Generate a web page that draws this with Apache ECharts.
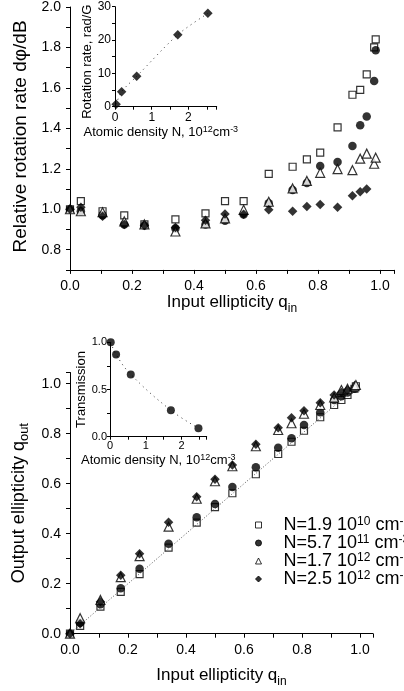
<!DOCTYPE html>
<html><head><meta charset="utf-8">
<script src="https://cdn.jsdelivr.net/npm/echarts@6/dist/echarts.min.js"></script>
<style>html,body{margin:0;padding:0;background:#fff}#c{width:404px;height:691px}</style>
</head><body><div id="c"></div>
<script>
// ---------- data ----------
const qIn = [0, 0.035, 0.105, 0.175, 0.24, 0.34, 0.437, 0.5, 0.56, 0.641, 0.718, 0.764, 0.807, 0.863, 0.911, 0.936, 0.957, 0.981, 0.986];
// relative rotation rate (top panel)
const rateN1 = [1.0, 1.04, 0.99, 0.97, 0.925, 0.95, 0.98, 1.04, 1.04, 1.175, 1.21, 1.247, 1.28, 1.405, 1.566, 1.59, 1.667, 1.80, 1.84];
const rateN2 = [1.0, 0.99, 0.97, 0.925, 0.92, 0.905, 0.925, 0.943, 0.974, 1.03, 1.095, 1.13, 1.214, 1.234, 1.313, 1.415, 1.459, 1.634, 1.786];
const rateN3 = [1.0, 0.99, 0.985, 0.94, 0.925, 0.89, 0.93, 0.955, 0.997, 1.037, 1.103, 1.14, 1.18, 1.198, 1.193, 1.25, 1.275, 1.225, 1.255];
const rateN4 = [1.0, 1.01, 0.965, 0.925, 0.92, 0.91, 0.945, 0.977, 0.975, 0.997, 0.99, 1.013, 1.023, 1.01, 1.067, 1.087, 1.10, null, null];
// output ellipticity (bottom panel)
const outN1 = [0, 0.031, 0.108, 0.167, 0.238, 0.344, 0.444, 0.506, 0.562, 0.638, 0.719, 0.768, 0.812, 0.866, 0.915, 0.935, 0.955, 0.98, 0.99];
const outN2 = [0, 0.044, 0.118, 0.182, 0.26, 0.36, 0.466, 0.519, 0.587, 0.666, 0.744, 0.782, 0.835, 0.886, 0.935, 0.95, 0.965, 0.98, null];
const outN3 = [0, 0.062, 0.135, 0.226, 0.31, 0.428, 0.54, 0.61, 0.67, 0.75, 0.815, 0.842, 0.88, 0.915, 0.945, 0.975, 0.98, 0.99, 0.995];
const outN4 = [0, 0.04, 0.128, 0.234, 0.32, 0.446, 0.548, 0.618, 0.675, 0.758, 0.824, 0.864, 0.892, 0.924, 0.955, 0.965, 0.975, null, null];
// reference line q_out = q_in
const diagX = [0, 1];
const diagY = [0, 1];
// insets
const densRot = [0.03, 0.18, 0.59, 1.71, 2.53];
const rotRate = [0.7, 4.5, 9.1, 21.6, 28.0];
const densTr = [0.02, 0.17, 0.58, 1.70, 2.47];
const transm = [1.0, 0.87, 0.66, 0.28, 0.09];
// legend
const legMant = ['1.9', '5.7', '1.7', '2.5'];
const legExp = ['10', '11', '12', '12'];
const seriesNames = legMant.map((m, i) => 'N=' + m + ' 10^' + legExp[i] + ' cm^-3');

// ---------- helpers ----------
const FF = 'Liberation Sans, Arial, sans-serif';
function pts(xs, ys) { const o = []; for (let i = 0; i < xs.length; i++) if (ys[i] != null) o.push([xs[i], ys[i]]); return o; }
function evenTenths(v) { const k = Math.round(v * 10); return (Math.abs(v * 10 - k) < 1e-6 && k % 2 === 0) ? (k / 10).toFixed(1) : ''; }
function integers(v) { const k = Math.round(v); return Math.abs(v - k) < 1e-6 ? String(k) : ''; }
function tens(v) { const k = Math.round(v / 10); return Math.abs(v / 10 - k) < 1e-6 ? String(k * 10) : ''; }
function halves(v) { const k = Math.round(v * 2); return Math.abs(v * 2 - k) < 1e-6 ? (k / 2).toFixed(1) : ''; }

function axis(o) {
  return Object.assign({
    type: 'value',
    axisLine: { show: true, onZero: false, lineStyle: { color: '#000', width: 1 } },
    axisTick: { show: true, inside: false, length: o.tickLen || 4, lineStyle: { color: '#000', width: 1 } },
    splitLine: { show: false },
    axisLabel: { color: '#000', fontFamily: FF, fontSize: o.fs || 14, margin: o.margin || 9, formatter: o.fmt,
                 showMinLabel: true, showMaxLabel: true, hideOverlap: false },
    nameLocation: 'middle'
  }, o.extra);
}

const richSub = (fs, sfs) => ({
  m: { fontSize: fs, fontFamily: FF, color: '#000', lineHeight: 24, verticalAlign: 'middle' },
  sub: { fontSize: sfs, fontFamily: FF, color: '#000', lineHeight: 14, verticalAlign: 'bottom' }
});
const richSup = (fs, sfs, lh, slh, spw) => ({
  t: { fontSize: fs, fontFamily: FF, color: '#000', lineHeight: lh, verticalAlign: 'middle' },
  sup: { fontSize: sfs, fontFamily: FF, color: '#000', lineHeight: slh, verticalAlign: 'top' },
  sp: { width: spw || 16, fontSize: fs, lineHeight: lh }
});

const markers = [
  { symbol: 'rect', size: 7, style: { color: '#fff', borderColor: '#000', borderWidth: 1.2 } },
  { symbol: 'circle', size: 8.5, style: { color: '#000', borderColor: '#000', borderWidth: 0 } },
  { symbol: 'triangle', size: 9, style: { color: '#fff', borderColor: '#000', borderWidth: 1.2 } },
  { symbol: 'diamond', size: 9.5, style: { color: '#000', borderColor: '#000', borderWidth: 0 } }
];
const rateSets = [rateN1, rateN2, rateN3, rateN4];
const outSets = [outN1, outN2, outN3, outN4];

const series = [];
rateSets.forEach((arr, i) => series.push({
  type: 'scatter', name: seriesNames[i], xAxisIndex: 0, yAxisIndex: 0,
  symbol: markers[i].symbol, symbolSize: markers[i].size, itemStyle: markers[i].style,
  data: pts(qIn, arr), z: 3 + i, silent: true
}));
series.push({
  type: 'line', xAxisIndex: 2, yAxisIndex: 2, data: pts(diagX, diagY), showSymbol: false,
  lineStyle: { color: '#555', width: 1, type: [1, 2] }, z: 2, silent: true
});
outSets.forEach((arr, i) => series.push({
  type: 'scatter', name: seriesNames[i], xAxisIndex: 2, yAxisIndex: 2,
  symbol: markers[i].symbol, symbolSize: markers[i].size, itemStyle: markers[i].style,
  data: pts(qIn, arr), z: i === 0 ? 1 : 3 + i, silent: true
}));
// insets
series.push({
  type: 'line', xAxisIndex: 1, yAxisIndex: 1, data: pts(densRot, rotRate), smooth: 0.3, showSymbol: false,
  lineStyle: { color: '#333', width: 1, type: [1, 4] }, silent: true
});
series.push({
  type: 'scatter', xAxisIndex: 1, yAxisIndex: 1, data: pts(densRot, rotRate), symbol: 'diamond', symbolSize: 9.5,
  itemStyle: { color: '#000' }, silent: true, z: 5
});
series.push({
  type: 'line', xAxisIndex: 3, yAxisIndex: 3, data: pts(densTr, transm), smooth: 0.4, showSymbol: false,
  lineStyle: { color: '#333', width: 1, type: [1, 4] }, silent: true
});
series.push({
  type: 'scatter', xAxisIndex: 3, yAxisIndex: 3, data: pts(densTr, transm), symbol: 'circle', symbolSize: 8,
  itemStyle: { color: '#000' }, silent: true, z: 5
});

const option = {
  animation: false,
  backgroundColor: '#fff',
  textStyle: { fontFamily: FF, color: '#000' },
  grid: [
    { left: 70, top: 4.7, width: 324, height: 265.2 },
    { left: 115, top: 6.7, width: 101.7, height: 100 },
    { left: 70, top: 372.5, width: 303, height: 261.2 },
    { left: 110, top: 342.3, width: 96.7, height: 94.4 }
  ],
  xAxis: [
    axis({ fmt: evenTenths, margin: 9, extra: { gridIndex: 0, min: 0, max: 1.045, interval: 0.1,
      name: '{m|Input ellipticity q}{sub|in}', nameGap: 14, nameTextStyle: { rich: richSub(17, 12) } } }),
    axis({ fmt: integers, fs: 12, margin: 5, tickLen: 3, extra: { gridIndex: 1, min: 0, max: 2.77, interval: 0.5,
      name: '{t|Atomic density N, 10}{sup|12}{t|cm}{sup|-3}', nameGap: 14,
      nameTextStyle: { rich: richSup(13, 9, 15, 8), padding: [0, 10, 0, 0] } } }),
    axis({ fmt: evenTenths, margin: 9, extra: { gridIndex: 2, min: 0, max: 1.045, interval: 0.1,
      name: '{m|Input ellipticity q}{sub|in}', nameGap: 30, nameTextStyle: { rich: richSub(17, 12) } } }),
    axis({ fmt: integers, fs: 11, margin: 4, tickLen: 3, extra: { gridIndex: 3, min: 0, max: 2.7, interval: 0.5,
      name: '{t|Atomic density N, 10}{sup|12}{t|cm}{sup|-3}', nameGap: 16,
      nameTextStyle: { rich: richSup(13, 9, 15, 8) } } })
  ],
  yAxis: [
    axis({ fmt: evenTenths, margin: 9, extra: { gridIndex: 0, min: 0.7, max: 2.0, interval: 0.1,
      name: 'Relative rotation rate d\u03c6/dB', nameGap: 33,
      nameTextStyle: { fontSize: 19, fontFamily: FF, color: '#000', padding: [0, 0, 0, 4] } } }),
    axis({ fmt: tens, fs: 12, margin: 4, tickLen: 3, extra: { gridIndex: 1, min: 0, max: 30, interval: 5,
      name: 'Rotation rate, rad/G', nameGap: 19,
      nameTextStyle: { fontSize: 13, fontFamily: FF, color: '#000', padding: [0, 10, 0, 0] } } }),
    axis({ fmt: evenTenths, margin: 9, extra: { gridIndex: 2, min: 0, max: 1.045, interval: 0.1,
      name: '{m|Output ellipticity q}{sub|out}', nameGap: 38, nameTextStyle: { rich: richSub(18, 13) } } }),
    axis({ fmt: halves, fs: 11, margin: 3, tickLen: 3, extra: { gridIndex: 3, min: 0, max: 1.0, interval: 0.25,
      name: 'Transmission', nameGap: 16,
      nameTextStyle: { fontSize: 13, fontFamily: FF, color: '#000' } } })
  ],
  legend: {
    data: seriesNames, orient: 'vertical', left: 255, top: 516, itemWidth: 6, itemHeight: 6, itemGap: 0,
    selectedMode: false, padding: 0,
    itemStyle: { borderWidth: 1 },
    formatter: name => { const i = seriesNames.indexOf(name);
      return '{sp| }{t|N=' + legMant[i] + ' 10}{sup|' + legExp[i] + '}{t| cm}{sup|-3}'; },
    textStyle: { color: '#000', fontFamily: FF, fontSize: 18, rich: richSup(18, 12, 18, 9, 17) }
  },
  series: series
};

const chart = echarts.init(document.getElementById('c'), null, { renderer: 'canvas' });
chart.setOption(option);
</script></body></html>
